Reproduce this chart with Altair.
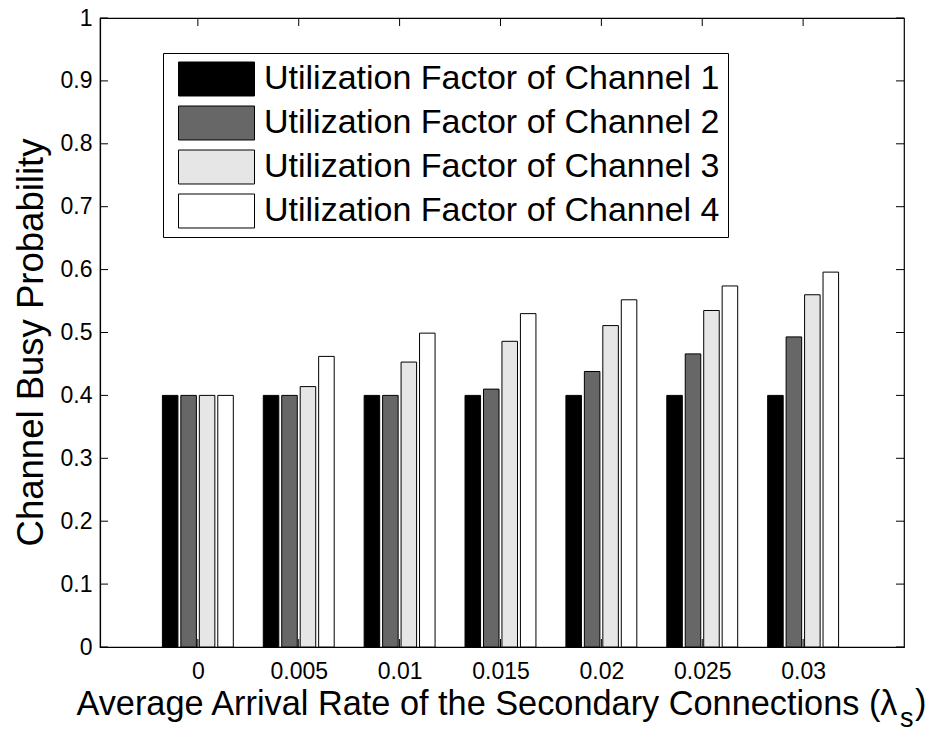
import json

import altair as alt
import pandas as pd

# Arrival rates of the secondary connections (x categories)
rates = ["0", "0.005", "0.01", "0.015", "0.02", "0.025", "0.03"]

# Legend entries, one per channel
series = [
    "Utilization Factor of Channel 1",
    "Utilization Factor of Channel 2",
    "Utilization Factor of Channel 3",
    "Utilization Factor of Channel 4",
]

# Channel busy probability per arrival rate
ch1 = [0.400, 0.400, 0.400, 0.400, 0.400, 0.400, 0.400]
ch2 = [0.400, 0.400, 0.400, 0.410, 0.438, 0.466, 0.493]
ch3 = [0.400, 0.414, 0.453, 0.486, 0.511, 0.535, 0.560]
ch4 = [0.400, 0.462, 0.499, 0.530, 0.552, 0.574, 0.596]

fills = ["#000000", "#676767", "#e6e6e6", "#ffffff"]
y_ticks = [0, 0.1, 0.2, 0.3, 0.4, 0.5, 0.6, 0.7, 0.8, 0.9, 1]

FONT = "Liberation Sans"
W, H = 804, 629
TICK = 8

rows = []
for s, vals in enumerate([ch1, ch2, ch3, ch4]):
    for g, v in enumerate(vals):
        rows.append({"g": g + 1, "s": s, "name": series[s], "value": v})
df = pd.DataFrame(rows)

x_scale = alt.Scale(domain=[0.03, 8.0], nice=False, zero=False)
y_scale = alt.Scale(domain=[0, 1], nice=False, zero=False)

label_lookup = json.dumps([""] + rates)

bars = (
    alt.Chart(df)
    .mark_rect(stroke="black", strokeWidth=1, opacity=1)
    .transform_calculate(
        x0="datum.g + (datum.s - 1.5) * 0.183 - 0.077",
        x1="datum.g + (datum.s - 1.5) * 0.183 + 0.077",
        base="0",
    )
    .encode(
        x=alt.X(
            "x0:Q",
            scale=x_scale,
            axis=alt.Axis(
                values=list(range(1, len(rates) + 1)),
                labelExpr=f"{label_lookup}[datum.value]",
                # the subscript and closing parenthesis are drawn as text layers
                title="Average Arrival Rate of the Secondary Connections (λ",
                titleFontSize=34.3,
                titleAlign="right",
                titleAnchor="start",
                titleX=797,
                titleY=67,
                titleBaseline="alphabetic",
                labelFontSize=23,
                labelPadding=13,
            ),
        ),
        x2="x1:Q",
        y=alt.Y(
            "value:Q",
            scale=y_scale,
            axis=alt.Axis(
                values=y_ticks,
                format="~g",
                title="Channel Busy Probability",
                titleFontSize=36.5,
                titleX=-58,
                titleY=324,
                titleBaseline="alphabetic",
                labelFontSize=23,
                labelPadding=8,
            ),
        ),
        y2="base:Q",
        color=alt.Color(
            "name:N",
            scale=alt.Scale(domain=series, range=fills),
            legend=alt.Legend(
                orient="none",
                legendX=63,
                legendY=35,
                title=None,
                fillColor="white",
                strokeColor="black",
                padding=8,
                symbolType="M-1,-0.447H1V0.447H-1Z",
                symbolSize=5776,
                symbolStrokeColor="black",
                symbolStrokeWidth=1,
                symbolOpacity=1,
                symbolOffset=7,
                labelFont=FONT,
                labelFontSize=34,
                labelColor="black",
                labelOffset=9,
                labelLimit=800,
                clipHeight=36,
                rowPadding=8,
            ),
        ),
    )
)

ytick_df = pd.DataFrame({"v": y_ticks})
xtick_df = pd.DataFrame({"g": list(range(1, len(rates) + 1))})

tick_style = dict(color="black", strokeWidth=1)

left_ticks = alt.Chart(ytick_df).mark_rule(**tick_style).encode(
    y=alt.Y("v:Q", scale=y_scale), x=alt.value(0), x2=alt.value(TICK)
)
right_ticks = alt.Chart(ytick_df).mark_rule(**tick_style).encode(
    y=alt.Y("v:Q", scale=y_scale), x=alt.value(W - TICK), x2=alt.value(W)
)
bottom_ticks = alt.Chart(xtick_df).mark_rule(**tick_style).encode(
    x=alt.X("g:Q", scale=x_scale), y=alt.value(H), y2=alt.value(H - TICK)
)
top_ticks = alt.Chart(xtick_df).mark_rule(**tick_style).encode(
    x=alt.X("g:Q", scale=x_scale), y=alt.value(0), y2=alt.value(TICK)
)

# Subscript "s" of lambda and the closing parenthesis of the x-axis title
sub_s = alt.Chart(pd.DataFrame({"t": ["s"]})).mark_text(
    font=FONT, fontSize=27, align="left", baseline="alphabetic", color="black"
).encode(text="t:N", x=alt.value(800), y=alt.value(H + 80))
close_paren = alt.Chart(pd.DataFrame({"t": [")"]})).mark_text(
    font=FONT, fontSize=34.3, align="left", baseline="alphabetic", color="black"
).encode(text="t:N", x=alt.value(815), y=alt.value(H + 67))

chart = (
    alt.layer(bars, left_ticks, right_ticks, bottom_ticks, top_ticks, sub_s, close_paren)
    .properties(
        width=W,
        height=H,
        autosize=alt.AutoSizeParams(type="none"),
        padding={"left": 100, "top": 18, "right": 29, "bottom": 86},
        background="white",
    )
    .configure_view(stroke="black", strokeWidth=1.2)
    .configure_axis(
        grid=False,
        ticks=False,
        domainColor="black",
        domainWidth=1.2,
        labelFont=FONT,
        titleFont=FONT,
        labelColor="black",
        titleColor="black",
        titleFontWeight="normal",
    )
)

chart.save("out.html", embed_options={"renderer": "svg", "actions": False})
